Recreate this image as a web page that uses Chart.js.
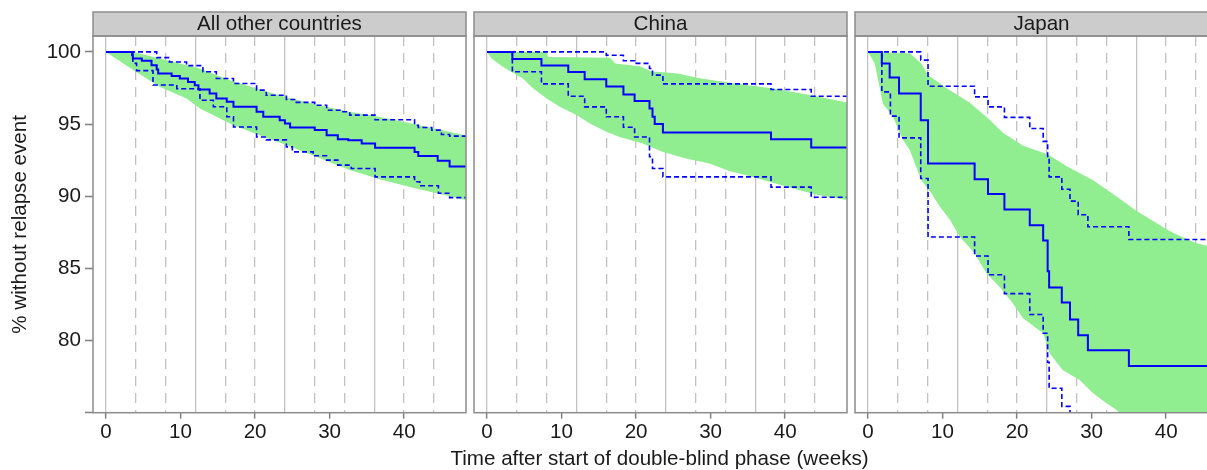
<!DOCTYPE html>
<html>
<head>
<meta charset="utf-8">
<script src="https://cdn.jsdelivr.net/npm/chart.js@4.4.1/dist/chart.umd.min.js"></script>
<style>
html, body { margin: 0; padding: 0; background: #fff; overflow: hidden; width: 1207px; height: 470px; }
canvas { position: absolute; top: 0; }
#xtitle { position: absolute; left: 659.5px; top: 448px; transform: translateX(-50%);
  white-space: nowrap; font: 20.6px/20.6px "Liberation Sans", Arial, Helvetica, sans-serif; color: #1a1a1a; }
</style>
</head>
<body>
<canvas id="p0"></canvas>
<canvas id="p1"></canvas>
<canvas id="p2"></canvas>
<div id="xtitle"></div>
<script>
const panelNames = ['All other countries', 'China', 'Japan'];
const xTitle = 'Time after start of double-blind phase (weeks)';
const yTitle = '% without relapse event';

// [week, % without relapse] — step estimates and confidence limits
const otherEst = [[0,100],[3.5,99.77],[3.6,99.54],[4.8,99.38],[6.1,99.08],[6.8,98.78],[7.0,98.5],[8.8,98.32],[9.9,98.16],[11.0,97.92],[11.9,97.69],[12.4,97.4],[13.9,97.12],[14.8,96.77],[16.2,96.54],[17.1,96.19],[20.2,95.85],[21.1,95.5],[23.3,95.27],[24.0,95.04],[24.7,94.76],[28.0,94.58],[29.6,94.23],[31.1,93.95],[32.5,93.88],[34.3,93.66],[36.1,93.35],[41.4,93.07],[41.9,92.78],[44.5,92.45],[46.1,92.05],[48.3,92.05]];
const otherUpper = [[0,100],[6.8,99.6],[8.5,99.3],[10.8,99.05],[13.0,98.62],[14.8,98.16],[17.1,97.81],[20.2,97.35],[21.5,97.0],[24.2,96.7],[25.3,96.5],[28.0,96.3],[29.6,95.96],[31.4,95.85],[32.7,95.62],[36.1,95.3],[41.4,94.92],[41.9,94.76],[43.7,94.58],[45.0,94.28],[46.1,94.16],[48.3,94.16]];
const otherLower = [[0,100],[3.6,99.2],[4.1,98.7],[6.3,97.7],[9.5,97.45],[12.6,96.65],[14.4,96.2],[16.2,95.5],[17.1,94.8],[20.2,94.1],[21.5,93.9],[24.2,93.42],[25.0,93.07],[27.8,92.8],[29.6,92.5],[31.1,92.15],[32.9,91.92],[36.1,91.34],[41.4,91.0],[42.1,90.72],[44.6,90.2],[46.1,89.9],[48.3,89.9]];
const otherBandHi = [[0,100],[3.7,100],[6.8,99.6],[9.9,99.2],[12.6,98.85],[14.8,98.4],[17.1,97.95],[20.6,97.4],[24.2,96.85],[28.2,96.35],[32.6,95.85],[36.1,95.55],[41.8,94.95],[48.3,94.2]];
const otherBandLo = [[0,100],[1.0,99.65],[3.7,98.73],[7.2,97.58],[10.8,96.77],[12.6,96.08],[17.1,94.92],[20.6,94.23],[24.2,93.55],[28.2,92.73],[32.7,91.81],[37.2,91.11],[41.6,90.54],[48.3,89.73]];

const chinaEst = [[0,100],[3.4,99.5],[7.3,99.05],[10.9,98.6],[13.1,98.1],[16.0,97.6],[18.3,97.05],[19.8,96.6],[21.8,96.08],[22.2,95.5],[22.5,95.0],[23.6,94.42],[38.1,93.95],[43.5,93.37],[48.3,93.37]];
const chinaUpper = [[0,100],[16.0,99.77],[18.3,99.38],[19.8,99.2],[21.8,98.85],[22.2,98.39],[23.6,97.78],[38.1,97.39],[43.5,96.93],[48.3,96.93]];
const chinaLower = [[0,100],[3.4,98.62],[7.3,97.78],[10.9,96.93],[13.1,96.19],[16.0,95.5],[18.3,94.78],[19.8,94.1],[21.8,92.73],[22.2,91.92],[23.6,91.34],[38.1,90.63],[43.5,89.93],[48.3,89.93]];
const chinaBandHi = [[0,100],[8.0,100],[8.2,99.65],[16.5,99.6],[17.2,99.2],[20.5,99.0],[22.0,98.65],[25.6,98.5],[28.7,98.15],[33.6,97.8],[38.6,97.45],[43.5,97.0],[48.3,96.5]];
const chinaBandLo = [[0,100],[0.6,99.54],[2.15,98.96],[4.8,98.16],[6.2,97.46],[8.0,96.77],[9.75,96.19],[12.0,95.62],[13.8,95.04],[16.0,94.46],[17.8,94.11],[20.9,93.65],[23.6,93.07],[26.7,92.62],[29.85,92.27],[32.5,91.75],[35.2,91.4],[37.9,91.0],[40.6,90.6],[44.2,90.1],[48.3,89.73]];

const japanEst = [[0,100],[1.85,99.2],[2.9,98.23],[4.16,97.12],[7.07,95.27],[8.05,92.27],[14.3,91.18],[16.1,90.15],[18.3,89.08],[21.7,87.98],[23.5,86.93],[24.1,84.8],[24.3,83.68],[26.0,82.63],[27.1,81.45],[28.2,80.37],[29.5,79.32],[35.0,78.23],[48.3,78.23]];
const japanUpper = [[0,100],[7.07,99.43],[8.05,97.62],[14.3,96.88],[16.1,96.19],[18.3,95.46],[21.7,94.69],[23.5,93.8],[24.1,92.6],[24.3,91.34],[26.0,90.48],[27.1,89.66],[28.2,88.72],[29.5,87.88],[35.0,87.0],[48.3,87.0]];
const japanLower = [[0,100],[1.85,97.23],[3.0,95.55],[4.16,94.04],[7.07,91.23],[8.05,87.17],[14.3,85.86],[16.1,84.56],[18.3,83.25],[21.7,81.8],[23.5,80.5],[24.1,78.5],[24.3,76.69],[26.0,75.44],[27.1,73.5]];
const japanBandHi = [[0,100],[5.6,99.9],[7.15,99.2],[8.05,98.4],[10.5,97.5],[13.6,96.5],[16.1,95.4],[18.1,94.4],[20.8,93.5],[24.1,92.9],[26.6,92.1],[30.2,91.1],[33.3,90.0],[36.0,89.0],[38.2,88.3],[40.4,87.6],[42.2,87.15],[44.0,86.75],[48.3,86.2]];
const japanBandLo = [[0,100],[0.9,99.2],[2.0,96.4],[3.35,95.5],[4.7,93.9],[5.6,93.2],[7.15,91.1],[8.5,90.2],[9.6,89.3],[11.0,88.35],[12.3,87.2],[14.3,86.05],[15.9,84.65],[17.7,83.7],[19.4,82.6],[20.8,81.55],[23.5,80.5],[24.4,79.1],[26.1,77.96],[28.4,77.27],[30.2,76.34],[32.0,75.65],[33.3,75.2],[34.5,74.6],[48.3,72.0]];

const panels = [
  { est: otherEst, up: otherUpper, lo: otherLower, bandHi: otherBandHi, bandLo: otherBandLo },
  { est: chinaEst, up: chinaUpper, lo: chinaLower, bandHi: chinaBandHi, bandLo: chinaBandLo },
  { est: japanEst, up: japanUpper, lo: japanLower, bandHi: japanBandHi, bandLo: japanBandLo }
];

const areaLeft = [93, 474, 855];
const AREA_W = 373;
const AREA_BOTTOM = 412.7;
const H = 470;
const FS = 20.6;

Chart.defaults.font.family = '"Liberation Sans", Arial, Helvetica, sans-serif';
Chart.defaults.font.size = FS;
Chart.defaults.color = '#1a1a1a';

document.getElementById('xtitle').textContent = xTitle;

const toXY = pts => pts.map(p => ({ x: p[0], y: p[1] }));
const isMult = (v, m) => Math.abs(v / m - Math.round(v / m)) < 1e-6;

// grey strip behind the panel name, and the panel frames
const stripBox = {
  id: 'stripBox',
  beforeDraw(chart) {
    const { ctx, chartArea: a } = chart;
    ctx.save();
    ctx.fillStyle = '#cccccc';
    ctx.fillRect(a.left, 12, a.right - a.left, a.top - 12);
    ctx.restore();
  },
  afterDraw(chart) {
    const { ctx, chartArea: a } = chart;
    ctx.save();
    ctx.strokeStyle = '#8c8c8c';
    ctx.lineWidth = 1.5;
    ctx.strokeRect(a.left, 12, a.right - a.left, a.top - 12);
    ctx.strokeRect(a.left, a.top, a.right - a.left, a.bottom - a.top);
    ctx.restore();
  }
};

function stepLine(pts, dashed) {
  return {
    data: toXY(pts), stepped: true, borderColor: '#0000ff',
    borderWidth: dashed ? 1.6 : 2, borderDash: dashed ? [5, 3] : [],
    pointRadius: 0, fill: false
  };
}

function bandEdge(pts, fill) {
  return {
    data: toXY(pts), borderColor: 'rgba(0,0,0,0)', borderWidth: 0,
    pointRadius: 0, fill: fill, backgroundColor: '#90ee90'
  };
}

panels.forEach((p, i) => {
  const cv = document.getElementById('p' + i);
  const padL = i === 0 ? 0 : 6;
  const yw = i === 0 ? 93 : 0;
  const w = yw + padL + AREA_W + 6;
  const left = i === 0 ? 0 : areaLeft[i] - 6;
  cv.width = w; cv.height = H;
  cv.style.left = left + 'px';
  cv.style.width = w + 'px'; cv.style.height = H + 'px';

  const yScale = {
    display: i === 0, min: 75, max: 101.1,
    ticks: { stepSize: 5, includeBounds: false, padding: 4, callback: v => v === 75 ? '' : String(v) },
    grid: { drawOnChartArea: false, drawTicks: true, tickLength: 8, tickColor: '#808080', tickWidth: 1.5 },
    border: { display: false },
    title: { display: true, text: yTitle, padding: { top: 7.6, bottom: 0 }, color: '#1a1a1a' }
  };
  if (i === 0) yScale.afterFit = s => { s.width = yw; };

  new Chart(cv, {
    type: 'line',
    data: {
      datasets: [
        stepLine(p.est, false),
        stepLine(p.up, true),
        stepLine(p.lo, true),
        bandEdge(p.bandLo, false),
        bandEdge(p.bandHi, '-1')
      ]
    },
    options: {
      responsive: false,
      animation: false,
      events: [],
      layout: { padding: { left: padL, right: 6, top: 0, bottom: 0 } },
      plugins: {
        legend: { display: false },
        tooltip: { enabled: false },
        title: {
          display: true, text: panelNames[i], fullSize: false,
          padding: { top: 12, bottom: 0 },
          font: { size: FS, lineHeight: 24 / FS, weight: 'normal' }, color: '#1a1a1a'
        }
      },
      scales: {
        x: {
          type: 'linear', min: -1.75, max: 48.3,
          ticks: {
            stepSize: 2, autoSkip: false, includeBounds: false, maxRotation: 0, minRotation: 0, padding: 1,
            callback: v => isMult(v, 10) ? String(Math.round(v)) : ''
          },
          grid: {
            drawOnChartArea: true, drawTicks: true, tickLength: 6, lineWidth: 1.3,
            color: c => (c.tick && isMult(c.tick.value, 4) && c.tick.value < 47) ? '#c2c2c2' : 'rgba(0,0,0,0)',
            tickColor: c => (c.tick && isMult(c.tick.value, 10)) ? '#808080' : 'rgba(0,0,0,0)',
            tickWidth: 1.5
          },
          border: { display: false, dash: c => (c.tick && isMult(c.tick.value, 12)) ? [] : [10, 7] },
          afterFit: s => { s.height = H - AREA_BOTTOM; }
        },
        y: yScale
      }
    },
    plugins: [stripBox]
  });
});
</script>
</body>
</html>
